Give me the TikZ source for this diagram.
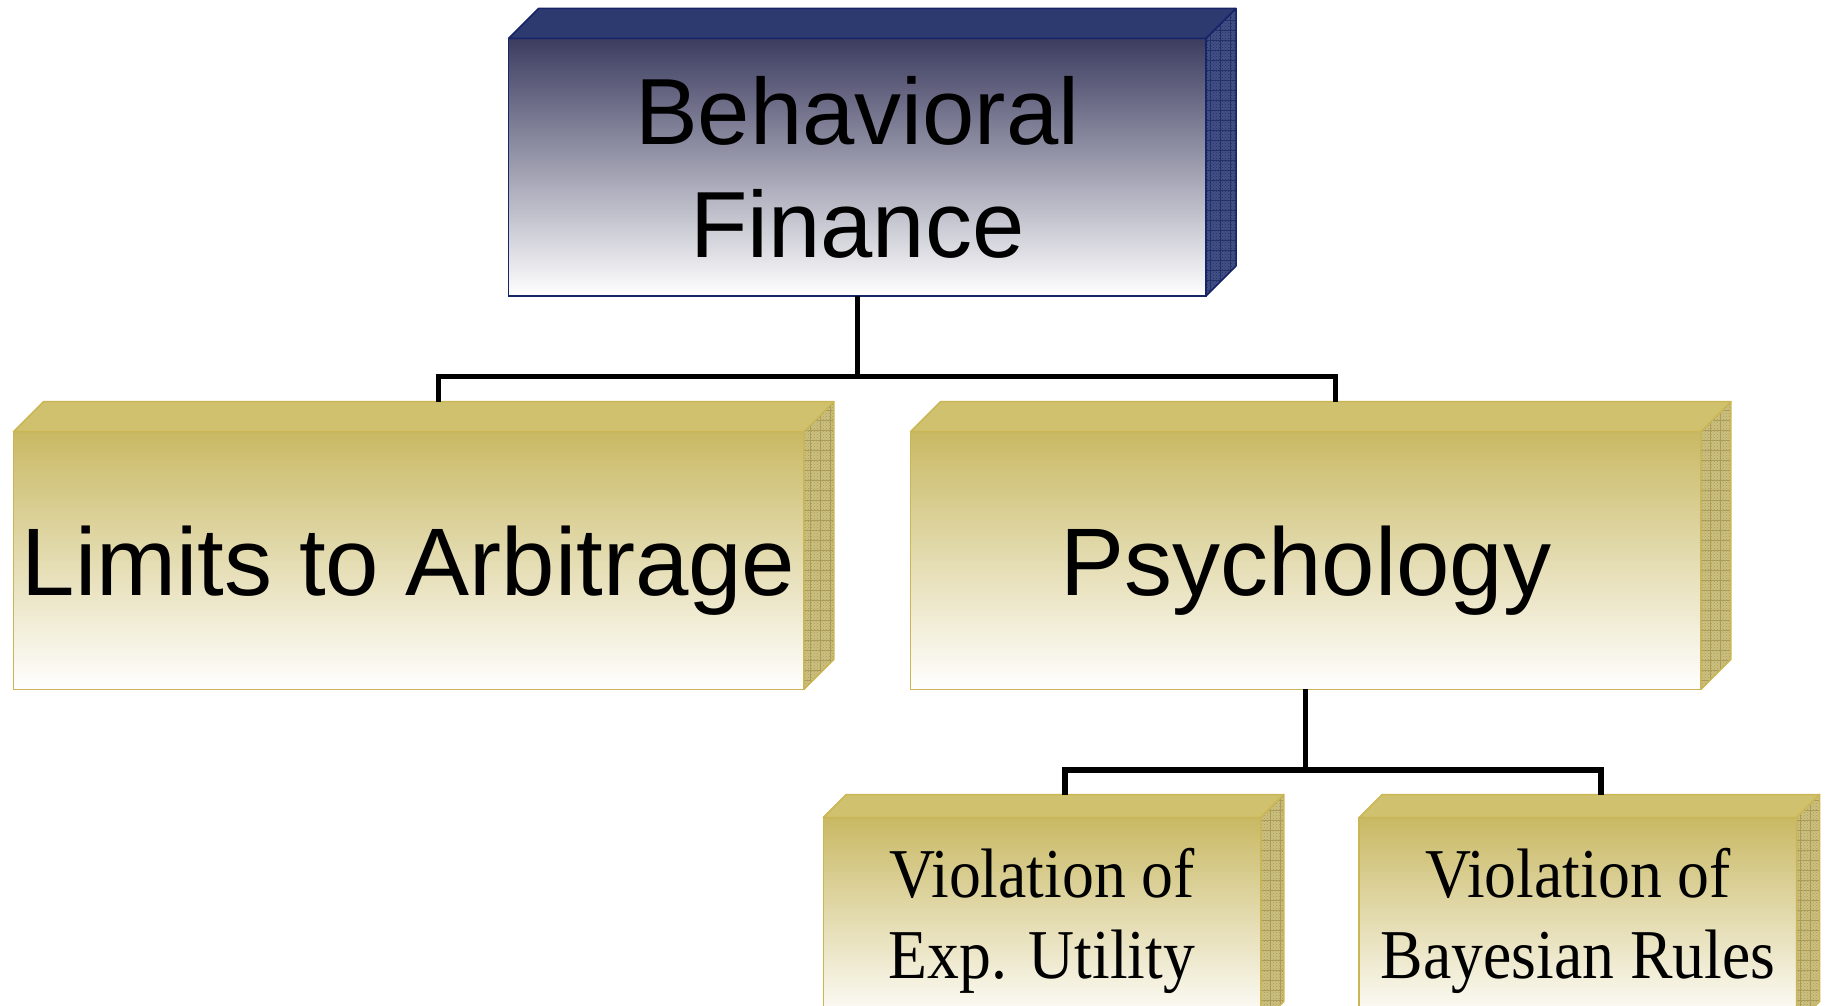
\documentclass[tikz,border=0pt]{standalone}
\usepackage{fontspec}
\setmainfont{Liberation Sans}
\newfontfamily\bookfont{Liberation Serif}[FakeStretch=0.91]
\usetikzlibrary{positioning,patterns}

\definecolor{navyfront}{RGB}{60,60,96}
\definecolor{navytop}{RGB}{44,58,112}
\definecolor{navyside}{RGB}{66,80,134}
\definecolor{navygrid}{RGB}{34,48,104}
\definecolor{navyline}{RGB}{22,36,104}
\definecolor{goldfront}{RGB}{201,185,100}
\definecolor{goldtop}{RGB}{208,193,110}
\definecolor{goldside}{RGB}{204,192,128}
\definecolor{goldgrid}{RGB}{170,156,88}
\definecolor{goldline}{RGB}{202,182,84}

% top and right faces of a block, plus the point where a link lands
\newcommand{\blockfaces}[3]{%
  \path[draw=#3line, line width=1.5pt, line join=round, fill=#3top]
    (#1.north west) -- ++(#2,-#2) -- ([shift={(#2,-#2)}]#1.north east)
    -- (#1.north east) -- cycle;
  \path[preaction={fill=#3side}, pattern=crosshatch dots, pattern color=#3grid]
    (#1.north east) -- ++(#2,-#2) -- ([shift={(#2,-#2)}]#1.south east)
    -- (#1.south east) -- cycle;
  \begin{scope}
    \clip (#1.north east) -- ++(#2,-#2) -- ([shift={(#2,-#2)}]#1.south east)
      -- (#1.south east) -- cycle;
    \draw[#3grid, line width=0.8pt, step=10pt]
      ([shift={(0,#2)}]#1.south east) grid ([shift={(#2,-#2)}]#1.north east);
  \end{scope}
  \draw[#3line, line width=1.5pt, line join=round]
    (#1.north east) -- ++(#2,-#2) -- ([shift={(#2,-#2)}]#1.south east)
    -- (#1.south east) -- cycle;
  \coordinate (#1-top) at ([shift={(#2,-#2)}]#1.north);
}

\tikzset{
  block/.style={inner sep=0pt, outer sep=0pt, line width=1.5pt},
  navybox/.style={block, draw=navyline, top color=navyfront, bottom color=white},
  goldbox/.style={block, draw=goldline, top color=goldfront, bottom color=white},
  bigbox/.style={minimum width=790.4pt, minimum height=257.6pt, text depth=0pt,
    font=\fontsize{96}{115}\selectfont},
  smallbox/.style={minimum width=437.5pt, minimum height=207pt, align=center,
    font=\bookfont\fontsize{70}{81.5}\selectfont},
  link/.style={line width=5.5pt, black},
}

\begin{document}
\begin{tikzpicture}[x=1pt, y=-1pt, on grid]
    \useasboundingbox (0,0) rectangle (1825,1006);
    \clip (0,0) rectangle (1825,1006);

    \node[navybox, minimum width=697.4pt, minimum height=257.5pt, align=center,
      font=\fontsize{94}{113}\selectfont] (bf) at (857.3,167.2) {Behavioral\\Finance};
    \node[goldbox, bigbox] [below left=393.3pt and 448.6pt of bf] (lim) {Limits to Arbitrage};
    \node[goldbox, bigbox] [below right=393.3pt and 448.4pt of bf] (psy) {Psychology};
    \node[goldbox, smallbox] [below left=360.5pt and 263.7pt of psy] (eu) {Violation of\\Exp. Utility};
    \node[goldbox, smallbox] [below right=360.5pt and 272.2pt of psy] (br) {Violation of\\Bayesian Rules};

    \blockfaces{bf}{30}{navy}
    \blockfaces{lim}{30}{gold}
    \blockfaces{psy}{30}{gold}
    \blockfaces{eu}{23}{gold}
    \blockfaces{br}{23}{gold}

    \draw[link] (bf.south) -- ++(0,80.5) -| (lim-top);
    \draw[link] (bf.south) -- ++(0,80.5) -| (psy-top);
    \draw[link] (psy.south) -- ++(0,80.5) -| (eu-top);
    \draw[link] (psy.south) -- ++(0,80.5) -| (br-top);
\end{tikzpicture}
\end{document}
